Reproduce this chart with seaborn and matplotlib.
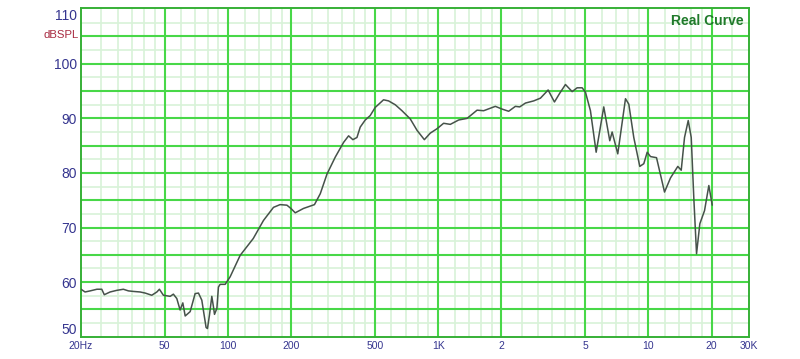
import numpy as np
import pandas as pd
import matplotlib
matplotlib.use("Agg")
import matplotlib.pyplot as plt
import seaborn as sns

# ---- data ----
freq_hz = [20, 20.9, 22.1, 23.8, 25.1, 25.8, 27.5, 29.6, 31.8, 33.6, 35.5, 38.2, 40.4,
           43.4, 45.9, 47.2, 49.3, 53.1, 55.0, 57.1, 59.2, 61.0, 62.6, 66.1, 69.8, 72.4,
           75.1, 78.7, 79.9, 81.7, 83.8, 85.3, 86.3, 88.6, 90.1, 91.8, 97, 102.5, 114.3,
           132, 147.6, 164.7, 177, 190.8, 199.3, 209, 228.8, 258, 275, 296, 324, 355, 375,
           393, 411, 426, 450, 475, 502, 550, 581, 625, 673, 737, 794, 860, 918, 988, 1062,
           1143, 1252, 1374, 1532, 1647, 1872, 2015, 2166, 2332, 2445, 2602, 2850, 3068,
           3338, 3577, 3790, 4036, 4342, 4588, 4846, 5024, 5306, 5649, 6140, 6558, 6730,
           7158, 7790, 8078, 8531, 9112, 9521, 9882, 10246, 10944, 11948, 12758, 13821,
           14346, 14874, 15490, 16008, 16472, 16968, 17592, 18520, 19414, 20152]
spl_db = [58.7, 58.2, 58.4, 58.7, 58.7, 57.7, 58.2, 58.5, 58.7, 58.4, 58.3, 58.2, 58.0,
          57.6, 58.2, 58.7, 57.6, 57.4, 57.8, 57.0, 54.9, 56.2, 53.8, 54.6, 57.9, 58.0,
          56.7, 51.7, 51.5, 54.0, 57.4, 55.5, 54.1, 55.2, 59.1, 59.6, 59.6, 61.0, 64.9,
          68.0, 71.3, 73.7, 74.2, 74.1, 73.5, 72.7, 73.5, 74.2, 76.2, 79.8, 82.9, 85.6, 86.8,
          86.1, 86.5, 88.4, 89.7, 90.5, 92.0, 93.4, 93.2, 92.5, 91.4, 89.9, 87.8, 86.1, 87.3,
          88.1, 89.1, 88.9, 89.7, 90.0, 91.5, 91.4, 92.2, 91.7, 91.3, 92.2, 92.1, 92.8, 93.2,
          93.7, 95.2, 93.0, 94.6, 96.2, 94.9, 95.6, 95.6, 94.8, 91.4, 83.8, 92.1, 85.9, 87.5,
          83.5, 93.6, 92.6, 86.5, 81.2, 81.7, 83.8, 83.0, 82.8, 76.5, 79.1, 81.2, 80.5, 86.5,
          89.6, 86.5, 75.3, 65.2, 70.7, 73.1, 77.7, 74.1]

x_major = [50, 100, 200, 500, 1000, 2000, 5000, 10000, 20000]
x_labels_pos = [20, 50, 100, 200, 500, 1000, 2000, 5000, 10000, 20000, 30000]
x_labels = ["20Hz", "50", "100", "200", "500", "1K", "2", "5", "10", "20", "30K"]
y_labels_pos = [50, 60, 70, 80, 90, 100, 110]
y_labels = ["50", "60", "70", "80", "90", "100", "110"]
minor_mult = [1.2, 1.4, 1.6, 1.8, 2.5, 3, 3.5, 4, 4.5, 6, 7, 8, 9]

df = pd.DataFrame({"freq": freq_hz, "spl": spl_db})

sns.set_theme(style="white")
plt.rcParams["font.family"] = ["Liberation Sans", "DejaVu Sans"]

fig = plt.figure(figsize=(8.0, 3.59), dpi=100)
ax = fig.add_axes([0.1013, 0.062, 0.8344, 0.917])

GRID_MAJ = "#48d848"
GRID_MIN = "#d8f2d8"
LABEL_C = "#35358f"

ax.set_xscale("log")
ax.set_xlim(20, 30000)
ax.set_ylim(50, 110.3)

# minor grid
minor_x = [m * b for b in [10, 100, 1000, 10000] for m in minor_mult]
minor_x = [v for v in minor_x if 20 < v < 30000]
for v in minor_x:
    ax.axvline(v, color=GRID_MIN, lw=1.2, zorder=0)
for v in np.arange(52.5, 110, 5.0):
    ax.axhline(v, color=GRID_MIN, lw=1.2, zorder=0)
# major grid
for v in x_major:
    ax.axvline(v, color=GRID_MAJ, lw=1.5, zorder=1)
for v in np.arange(55, 110, 5.0):
    ax.axhline(v, color=GRID_MAJ, lw=1.5, zorder=1)

sns.lineplot(data=df, x="freq", y="spl", ax=ax, color="#46524a", lw=1.1,
             sort=False, estimator=None, zorder=3)

ax.set_xticks(x_labels_pos)
ax.set_xticklabels(x_labels)
ax.xaxis.set_minor_locator(matplotlib.ticker.NullLocator())
ax.set_yticks(y_labels_pos)
ax.set_yticklabels(y_labels)
ax.tick_params(axis="x", length=0, pad=3, labelsize=7.5, labelcolor=LABEL_C)
ax.tick_params(axis="y", length=0, pad=3, labelsize=10, labelcolor=LABEL_C)
ylabs = ax.get_yticklabels()
ylabs[0].set_verticalalignment("bottom")
ylabs[-1].set_verticalalignment("top")
ax.set_xlabel("")
ax.set_ylabel("")

for s in ax.spines.values():
    s.set_color("#36b036")
    s.set_linewidth(1.4)
    s.set_visible(True)

ax.text(-0.004, 105.3, "dBSPL", transform=ax.get_yaxis_transform(),
        ha="right", va="center", fontsize=8.2, color="#a82a40")
ax.text(0.992, 0.96, "Real Curve", transform=ax.transAxes, ha="right", va="center",
        fontsize=10, fontweight="bold", color="#1f7a2a")

fig.savefig("out.png", dpi=100, facecolor="white")
